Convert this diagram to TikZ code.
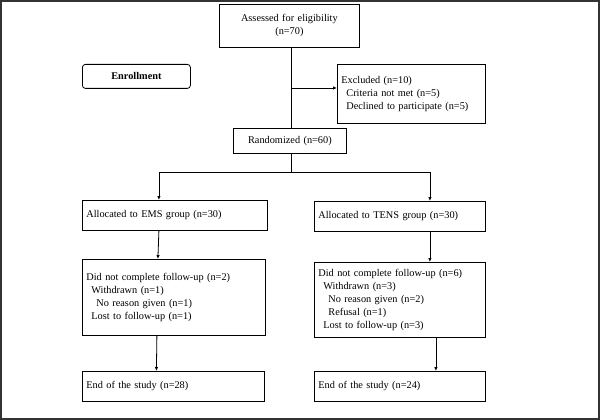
\documentclass[tikz,border=0pt]{standalone}
\usepackage{fontspec}
\setmainfont{Liberation Serif}
\usetikzlibrary{arrows.meta}
\begin{document}
\begin{tikzpicture}[x=1pt,y=-1pt,
    box/.style={draw, thick, anchor=north west, inner xsep=4pt, inner ysep=0pt, align=left, font=\fontsize{10.3}{13}\selectfont},
    link/.style={thick, -{Latex[length=4pt,width=3.5pt]}}]

    % Frame
    \draw[line width=2pt, black!80] (1,1) rectangle (599,419);
    \useasboundingbox (0,0) rectangle (600,420);

    % Top
    \node[box, align=center, text width=132pt, minimum height=43pt] (assess) at (219,4) {Assessed for eligibility\\(n=70)};
    \node[box, rounded corners=3pt, align=center, text width=100pt, minimum height=24pt, font=\fontsize{10.3}{13}\selectfont\bfseries] (enrol) at (82,64) {Enrollment};
    \node[box, text width=140pt, minimum height=59pt] (excl) at (337,64) {Excluded (n=10)\\\hspace{5pt}Criteria not met (n=5)\\\hspace{5pt}Declined to participate (n=5)\\[4pt]};
    \node[box, align=center, text width=105pt, minimum height=25pt] (rand) at (233,128) {Randomized (n=60)};

    % Groups
    \node[box, text width=177pt, minimum height=30pt] (ems) at (82,200) {Allocated to EMS group (n=30)};
    \node[box, text width=163pt, minimum height=30pt] (tens) at (314,201) {Allocated to TENS group (n=30)};
    \node[box, text width=175pt, minimum height=76pt] (emsdrop) at (82,259) {Did not complete follow-up (n=2)\\\hspace{5pt}Withdrawn (n=1)\\\hspace{10pt}No reason given (n=1)\\\hspace{5pt}Lost to follow-up (n=1)\\[10pt]};
    \node[box, text width=163pt, minimum height=75pt] (tensdrop) at (314,262) {Did not complete follow-up (n=6)\\\hspace{5pt}Withdrawn (n=3)\\\hspace{10pt}No reason given (n=2)\\\hspace{10pt}Refusal (n=1)\\\hspace{5pt}Lost to follow-up (n=3)};
    \node[box, text width=174pt, minimum height=30pt] (emsend) at (82,371) {End of the study (n=28)};
    \node[box, text width=163pt, minimum height=30pt] (tensend) at (314,371) {End of the study (n=24)};

    % Connectors
    \coordinate (exclbr) at (291,88);
    \coordinate (split) at (291,172);
    \draw[thick] (assess.south -| split) -- (rand.north -| split);
    \draw[link] (exclbr) -- (excl.west |- exclbr);
    \draw[thick] (rand.south -| split) -- (split);
    \draw[link] (split) -| ([xshift=-16pt]ems.north);
    \draw[link] (split) -| ([xshift=30pt]tens.north);
    \draw[link] ([xshift=-16pt]ems.south) -- ([xshift=-16pt]emsdrop.north);
    \draw[link] ([xshift=30pt]tens.south) -- ([xshift=30pt]tensdrop.north);
    \draw[link] ([xshift=-17pt]emsdrop.south) -- ([xshift=-17pt]emsend.north);
    \draw[link] ([xshift=36pt]tensdrop.south) -- ([xshift=36pt]tensend.north);

\end{tikzpicture}
\end{document}
